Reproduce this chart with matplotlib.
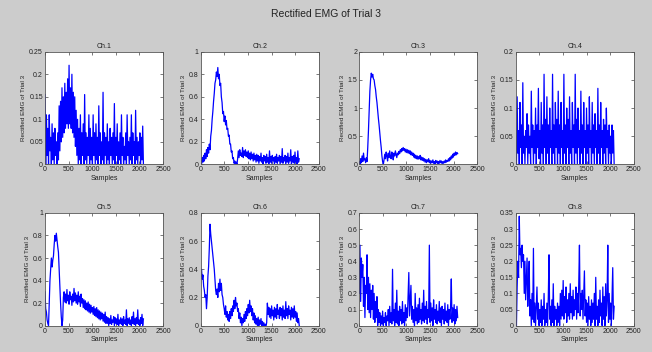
import numpy as np
import matplotlib
matplotlib.use("Agg")
import matplotlib.pyplot as plt
from matplotlib.ticker import FuncFormatter

plt.rcParams["font.family"] = ["Liberation Sans", "DejaVu Sans"]

# Rectified EMG per channel (one value per ~15 samples).
ch1 = [0.155, 0.0, 0.11, 0.02, 0.08, 0.0, 0.11, 0.03, 0.06, 0.0, 0.09, 0.01, 0.07, 0.0, 0.08, 0.02, 0.05, 0.0, 0.07, 0.01,
       0.13, 0.03, 0.14, 0.05, 0.17, 0.06, 0.15, 0.07, 0.18, 0.08, 0.16, 0.09, 0.19, 0.08, 0.22, 0.09, 0.17, 0.08, 0.2, 0.07,
       0.16, 0.06, 0.15, 0.04, 0.12, 0.02, 0.1,
       0.0, 0.08, 0.01, 0.11, 0.0, 0.07, 0.02, 0.09, 0.0, 0.155, 0.01, 0.07, 0.0, 0.06, 0.02, 0.11, 0.0, 0.08, 0.01, 0.06,
       0.0, 0.11, 0.02, 0.07, 0.0, 0.09, 0.01, 0.06, 0.0, 0.13, 0.02, 0.07, 0.0, 0.05, 0.01, 0.16, 0.0, 0.07, 0.02, 0.06,
       0.0, 0.09, 0.01, 0.05, 0.0, 0.08, 0.02, 0.06, 0.0, 0.07, 0.01, 0.135, 0.0, 0.06, 0.02, 0.09, 0.0, 0.05, 0.01, 0.07,
       0.0, 0.11, 0.02, 0.06, 0.0, 0.04, 0.01, 0.07, 0.0, 0.11, 0.02, 0.05, 0.0, 0.06, 0.01, 0.11, 0.0, 0.07, 0.02, 0.05,
       0.0, 0.12, 0.01, 0.06, 0.0, 0.05, 0.02, 0.07, 0.0, 0.06, 0.01, 0.085, 0.0]
ch2 = [0.03, 0.0, 0.06, 0.02, 0.08, 0.03, 0.1, 0.05, 0.13, 0.07, 0.15, 0.1, 0.18, 0.13,
       0.25, 0.3, 0.4, 0.47, 0.56, 0.63, 0.72, 0.75, 0.82, 0.78,
       0.86, 0.76, 0.8, 0.7, 0.72, 0.6, 0.55, 0.45, 0.47, 0.38, 0.43, 0.35, 0.39, 0.31, 0.32, 0.25, 0.26, 0.18, 0.18, 0.11,
       0.12, 0.05, 0.06, 0.01, 0.03, 0.0, 0.02, 0.0,
       0.05, 0.12, 0.06, 0.13, 0.08, 0.1, 0.07, 0.15, 0.06, 0.12, 0.08, 0.13, 0.07, 0.11, 0.06, 0.12, 0.05, 0.1, 0.04, 0.11,
       0.05, 0.09, 0.03, 0.1, 0.04, 0.08, 0.02, 0.09,
       0.03, 0.08, 0.01, 0.07, 0.03, 0.1, 0.02, 0.06, 0.0, 0.08, 0.03, 0.07, 0.01, 0.09, 0.02, 0.06, 0.0, 0.12, 0.02, 0.07,
       0.01, 0.08, 0.03, 0.06, 0.0, 0.07, 0.02, 0.09, 0.01, 0.06, 0.03, 0.08, 0.0, 0.07, 0.02, 0.14, 0.01, 0.06, 0.03, 0.08,
       0.0, 0.07, 0.02, 0.1, 0.01, 0.06, 0.03, 0.13, 0.0, 0.07, 0.02, 0.08, 0.01, 0.11, 0.02, 0.06, 0.0, 0.12, 0.02, 0.05]
ch3 = [0.05, 0.0, 0.1, 0.03, 0.15, 0.05, 0.2, 0.08, 0.1, 0.03, 0.12, 0.05,
       0.3, 0.6, 0.95, 1.3, 1.5, 1.62, 1.55, 1.6,
       1.52, 1.5, 1.4, 1.33, 1.2, 1.1, 0.95, 0.82, 0.7, 0.55, 0.42, 0.3, 0.15, 0.05, 0.0,
       0.08, 0.18, 0.1, 0.22, 0.15, 0.06, 0.2, 0.12, 0.24, 0.14, 0.1, 0.22, 0.16, 0.08, 0.2, 0.15, 0.24, 0.18, 0.12, 0.2,
       0.17, 0.23, 0.19, 0.26, 0.22, 0.28,
       0.24, 0.3, 0.25, 0.28, 0.22, 0.27, 0.21, 0.26, 0.2, 0.25, 0.19, 0.24, 0.17, 0.22, 0.16,
       0.2, 0.13, 0.18, 0.11, 0.16, 0.1, 0.15, 0.09, 0.14, 0.1, 0.16, 0.08, 0.13, 0.07, 0.12, 0.06, 0.1, 0.04, 0.09, 0.03,
       0.08, 0.05, 0.1, 0.03, 0.07,
       0.02, 0.06, 0.03, 0.08, 0.02, 0.05, 0.01, 0.07, 0.03, 0.06, 0.0, 0.05, 0.02, 0.07, 0.03, 0.06, 0.01, 0.05, 0.02, 0.06,
       0.03, 0.08, 0.04, 0.07, 0.05,
       0.1, 0.06, 0.12, 0.08, 0.15, 0.11, 0.18, 0.13, 0.2, 0.16, 0.22, 0.17, 0.21, 0.19]
ch4 = [0.04, 0.0, 0.12, 0.02, 0.06, 0.0, 0.11, 0.03, 0.07, 0.0, 0.145, 0.02, 0.05, 0.0, 0.06, 0.03, 0.09, 0.0, 0.07, 0.02,
       0.05, 0.0, 0.13, 0.03, 0.07, 0.0, 0.06, 0.02, 0.1, 0.0, 0.07, 0.03, 0.135, 0.01, 0.06, 0.0, 0.11, 0.02, 0.07, 0.0,
       0.16, 0.03, 0.08, 0.0, 0.12, 0.02, 0.07, 0.0, 0.1, 0.03, 0.06, 0.0, 0.16, 0.02, 0.07, 0.0, 0.11, 0.03, 0.08, 0.0,
       0.13, 0.02, 0.07, 0.0, 0.11, 0.03, 0.06, 0.0, 0.16, 0.02, 0.07, 0.0, 0.1, 0.03, 0.08, 0.0, 0.12, 0.02, 0.06, 0.0,
       0.11, 0.03, 0.07, 0.0, 0.16, 0.02, 0.08, 0.0, 0.1, 0.03, 0.06, 0.0, 0.13, 0.02, 0.07, 0.0, 0.11, 0.03, 0.06, 0.0,
       0.1, 0.02, 0.07, 0.0, 0.12, 0.03, 0.06, 0.0, 0.11, 0.02, 0.07, 0.0, 0.09, 0.03, 0.06, 0.0, 0.135, 0.02, 0.07, 0.0,
       0.11, 0.03, 0.06, 0.0, 0.08, 0.02, 0.07, 0.0, 0.1, 0.03, 0.06, 0.0, 0.07, 0.02, 0.05, 0.0, 0.07, 0.02, 0.06, 0.0]
ch5 = [0.3, 0.15, 0.12, 0.05, 0.02, 0.0,
       0.2, 0.4, 0.5, 0.6, 0.52, 0.58, 0.62,
       0.72, 0.8, 0.75, 0.82, 0.76, 0.7, 0.65,
       0.5, 0.35, 0.2, 0.08, 0.0, 0.05,
       0.25, 0.3, 0.21, 0.28, 0.2, 0.32, 0.22, 0.27, 0.19, 0.3, 0.23, 0.26, 0.18, 0.28, 0.21, 0.33, 0.22, 0.29, 0.2, 0.27,
       0.19, 0.3, 0.21, 0.26, 0.17, 0.28, 0.2, 0.24,
       0.16, 0.23, 0.15, 0.22, 0.14, 0.2, 0.13, 0.21, 0.12, 0.19, 0.11, 0.18, 0.12, 0.16, 0.1, 0.17, 0.09, 0.15, 0.08, 0.16,
       0.07, 0.14, 0.06, 0.13, 0.05, 0.12, 0.06, 0.11, 0.04, 0.1, 0.03, 0.12, 0.02,
       0.08, 0.02, 0.07, 0.0, 0.06, 0.02, 0.09, 0.01, 0.05, 0.03, 0.08, 0.0, 0.07, 0.02, 0.06, 0.01, 0.1, 0.0, 0.05, 0.02,
       0.07, 0.01, 0.06, 0.0, 0.08, 0.02, 0.05, 0.01, 0.14, 0.0, 0.06, 0.02, 0.07, 0.01, 0.05, 0.0, 0.08, 0.02, 0.12, 0.01,
       0.06, 0.0, 0.07, 0.02, 0.14, 0.01, 0.05, 0.0, 0.07, 0.02, 0.1, 0.0, 0.06]
ch6 = [0.35, 0.4, 0.33, 0.36, 0.28, 0.25, 0.2, 0.22, 0.12,
       0.2, 0.35, 0.42, 0.55, 0.72, 0.65,
       0.6, 0.55, 0.5, 0.45, 0.4, 0.32, 0.25, 0.22,
       0.26, 0.2, 0.3, 0.24, 0.33, 0.25, 0.3, 0.22,
       0.2, 0.15, 0.12, 0.08, 0.14, 0.06, 0.1, 0.04, 0.08, 0.03,
       0.1, 0.05, 0.12, 0.07, 0.14, 0.1, 0.18, 0.12, 0.2, 0.14, 0.16, 0.1,
       0.12, 0.05, 0.09, 0.02, 0.06, 0.0, 0.05, 0.02, 0.08, 0.03, 0.1, 0.05, 0.12, 0.07,
       0.15, 0.09, 0.18, 0.1, 0.14, 0.07, 0.12, 0.04, 0.09, 0.02, 0.07, 0.01, 0.05, 0.0,
       0.06, 0.0, 0.04, 0.01, 0.05, 0.0, 0.03, 0.0, 0.02, 0.0, 0.01, 0.0, 0.02,
       0.16, 0.08, 0.13, 0.06, 0.12, 0.05, 0.14, 0.07, 0.11, 0.04, 0.13, 0.06, 0.12, 0.05, 0.15, 0.08, 0.11, 0.05, 0.13, 0.07,
       0.12, 0.04, 0.14, 0.06, 0.11, 0.05, 0.17, 0.07, 0.12, 0.05, 0.14, 0.08, 0.11, 0.04, 0.13, 0.06, 0.12, 0.05, 0.14, 0.06,
       0.1, 0.03, 0.09, 0.02,
       0.05, 0.0]
ch7 = [0.2, 0.5, 0.15, 0.42, 0.3, 0.38, 0.12, 0.3, 0.05, 0.25, 0.2, 0.44, 0.1,
       0.3, 0.08, 0.26, 0.05, 0.22, 0.1, 0.25, 0.04, 0.2, 0.02, 0.15, 0.05, 0.18, 0.0, 0.1,
       0.02, 0.08, 0.0, 0.06, 0.01, 0.09, 0.0, 0.05, 0.02, 0.08, 0.0, 0.06, 0.03,
       0.1, 0.0, 0.12, 0.02, 0.08, 0.01, 0.35, 0.03, 0.1, 0.0, 0.14, 0.02, 0.22, 0.01, 0.09, 0.0, 0.12, 0.03, 0.1, 0.01,
       0.15, 0.02, 0.08, 0.0, 0.13, 0.03, 0.11, 0.05, 0.18, 0.33, 0.06, 0.15, 0.25, 0.04, 0.12, 0.02, 0.1, 0.0, 0.2, 0.03,
       0.11, 0.01, 0.13, 0.02, 0.17, 0.04, 0.1, 0.01, 0.14, 0.03, 0.22, 0.02, 0.12, 0.04, 0.15, 0.01, 0.1, 0.05, 0.5, 0.02,
       0.14, 0.03, 0.11, 0.0, 0.16, 0.04, 0.1, 0.02, 0.13, 0.01, 0.09, 0.03, 0.15, 0.02, 0.11, 0.0, 0.12, 0.04, 0.1, 0.01,
       0.14, 0.03, 0.09, 0.02, 0.13, 0.0, 0.1, 0.04, 0.12, 0.29, 0.02, 0.11, 0.03, 0.13, 0.01, 0.1, 0.03, 0.12, 0.05]
ch8 = [0.05, 0.0, 0.12, 0.2, 0.15, 0.34, 0.22, 0.24, 0.18, 0.25, 0.2,
       0.22, 0.1, 0.2, 0.08, 0.15, 0.21, 0.06, 0.12, 0.2,
       0.03, 0.08, 0.0, 0.1, 0.02, 0.24, 0.01, 0.07, 0.0, 0.06, 0.12, 0.02, 0.07, 0.0, 0.05, 0.01, 0.08, 0.0, 0.06, 0.02,
       0.1, 0.0, 0.05, 0.01, 0.07, 0.0, 0.09, 0.22, 0.02, 0.06, 0.0, 0.08, 0.01, 0.13, 0.0, 0.06, 0.02, 0.05, 0.0, 0.07,
       0.01, 0.06, 0.0, 0.1, 0.02, 0.11, 0.03, 0.14, 0.02, 0.09, 0.04, 0.12, 0.01, 0.08, 0.03, 0.1, 0.02, 0.13, 0.04, 0.09,
       0.02, 0.11, 0.03, 0.08, 0.05, 0.12, 0.02, 0.1, 0.04, 0.13, 0.25, 0.03, 0.1, 0.05, 0.11, 0.02, 0.09, 0.17, 0.03, 0.08,
       0.01, 0.07, 0.0, 0.09, 0.02, 0.06, 0.0, 0.08, 0.01, 0.07, 0.02, 0.1, 0.0, 0.15, 0.02, 0.06, 0.0, 0.08, 0.01, 0.11,
       0.03, 0.07, 0.0, 0.12, 0.02, 0.09, 0.0, 0.13, 0.03, 0.08, 0.25, 0.01, 0.1, 0.02, 0.07, 0.0, 0.09, 0.18, 0.02, 0.06]

channels = [ch1, ch2, ch3, ch4, ch5, ch6, ch7, ch8]
titles = ["Ch.1", "Ch.2", "Ch.3", "Ch.4", "Ch.5", "Ch.6", "Ch.7", "Ch.8"]
y_max = [0.25, 1, 2, 0.2, 1, 0.8, 0.7, 0.35]
y_step = [0.05, 0.2, 0.5, 0.05, 0.2, 0.2, 0.1, 0.05]
n_samples = 2085

_LEFTS = [0.069, 0.308, 0.551, 0.791]
_BOTTOMS = [0.533, 0.075]
_W, _H = 0.181, 0.32
_TXT = "#222222"

fig = plt.figure(figsize=(6.52, 3.52), dpi=100, facecolor="#cccccc")
fig.suptitle("Rectified EMG of Trial 3", y=0.975, fontsize=7.5, color=_TXT)

fmt = FuncFormatter(lambda v, _: f"{v:g}")

for idx, vals in enumerate(channels):
    r, c = divmod(idx, 4)
    ax = fig.add_axes([_LEFTS[c], _BOTTOMS[r], _W, _H])
    x = np.linspace(0, n_samples, len(vals))
    ax.plot(x, vals, color="#0000ff", lw=0.9)

    ax.set_xlim(0, 2500)
    ax.set_ylim(0, y_max[idx])
    ax.set_xticks(np.arange(0, 2501, 500))
    ax.set_yticks(np.arange(0, y_max[idx] + 1e-9, y_step[idx]))
    ax.yaxis.set_major_formatter(fmt)
    ax.tick_params(direction="in", length=2, width=0.5, top=True, right=True,
                   labelsize=5, colors="#444444", labelcolor=_TXT, pad=1.5)
    for sp in ax.spines.values():
        sp.set_linewidth(0.6)
        sp.set_color("#555555")

    ax.set_title(titles[idx], fontsize=5, color=_TXT, pad=3)
    ax.set_xlabel("Samples", fontsize=5, color=_TXT, labelpad=1)
    ax.set_ylabel("Rectified EMG of Trial 3", fontsize=4.5, color=_TXT, labelpad=2)

fig.savefig("out.png", dpi=100, facecolor=fig.get_facecolor())
plt.close(fig)
